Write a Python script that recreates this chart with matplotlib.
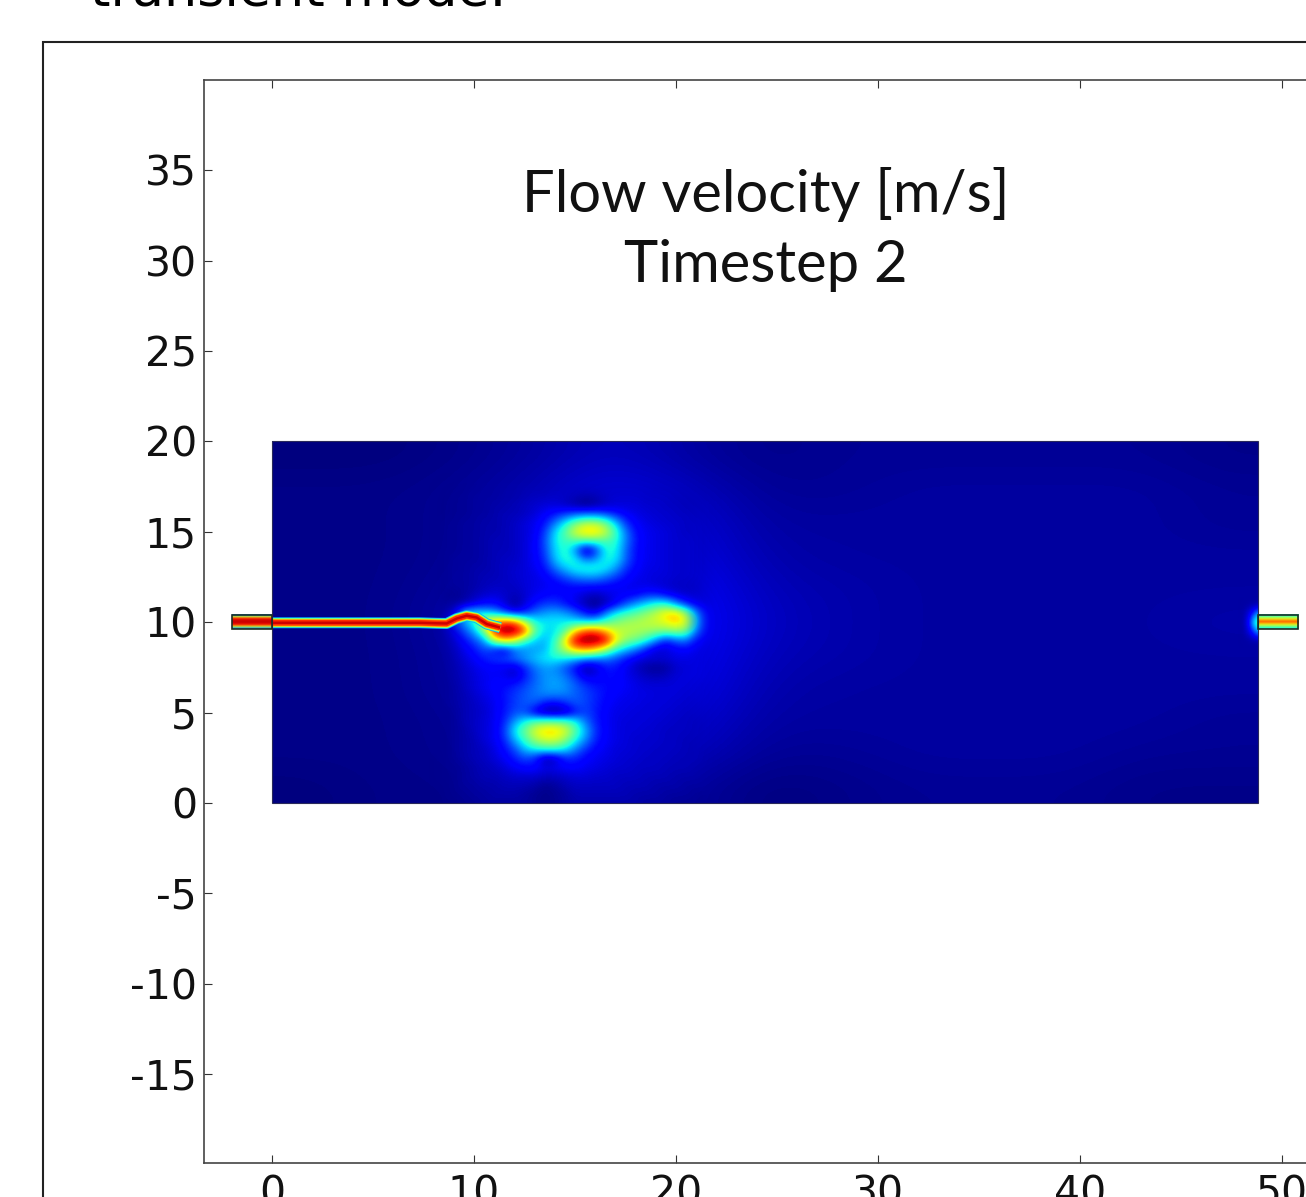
import numpy as np
import matplotlib
matplotlib.use('Agg')
import matplotlib.pyplot as plt
from matplotlib.patches import Rectangle

plt.rcParams['font.family'] = 'DejaVu Sans'
plt.rcParams['axes.unicode_minus'] = False

# speed, 0-100 on the jet scale
# whole chamber, x = 0..48.8, rows from y=20 down to y=0
chamber_speed = [
    [0, 0, 1, 3, 6, 3, 1, 2, 2, 2, 2, 2, 1],
    [1, 1, 2, 5, 9, 6, 2, 2, 3, 3, 3, 3, 2],
    [1, 1, 2, 5, 10, 8, 3, 3, 3, 3, 3, 3, 2],
    [1, 1, 2, 6, 11, 9, 4, 3, 3, 3, 3, 3, 3],
    [1, 1, 3, 7, 12, 11, 5, 4, 3, 3, 3, 3, 3],
    [1, 1, 4, 9, 13, 12, 6, 4, 3, 3, 3, 3, 4],
    [1, 1, 3, 7, 12, 11, 5, 4, 3, 3, 3, 3, 3],
    [1, 1, 3, 6, 11, 10, 4, 3, 3, 3, 3, 3, 3],
    [1, 1, 2, 5, 10, 8, 3, 3, 3, 3, 3, 3, 2],
    [1, 1, 2, 4, 8, 6, 2, 2, 3, 3, 3, 2, 2],
    [0, 1, 1, 3, 5, 3, 0, 1, 2, 2, 2, 1, 1],
]

# centre of the chamber, x = 8..22 and y = 18..0 in steps of 0.5
core_speed = [
    [1, 1, 1, 2, 2, 3, 3, 3, 4, 4, 4, 5, 5, 6, 6, 6, 6, 6, 6, 6, 6, 5, 5, 5, 5, 4, 4, 4, 3],
    [1, 1, 1, 2, 2, 3, 3, 4, 4, 5, 5, 5, 6, 6, 6, 6, 6, 6, 6, 6, 6, 6, 5, 5, 5, 5, 4, 4, 3],
    [1, 1, 2, 2, 3, 3, 3, 4, 4, 5, 6, 6, 7, 6, 5, 3, 4, 6, 7, 7, 7, 6, 6, 6, 5, 5, 5, 4, 4],
    [1, 1, 2, 2, 3, 3, 4, 4, 5, 6, 7, 8, 8, 6, 3, 1, 3, 6, 8, 8, 8, 7, 7, 6, 6, 5, 5, 5, 4],
    [1, 1, 2, 2, 3, 3, 4, 5, 5, 6, 8, 11, 14, 17, 20, 21, 21, 18, 14, 11, 9, 8, 7, 7, 6, 6, 5, 5, 4],
    [1, 2, 2, 3, 3, 4, 4, 5, 6, 8, 10, 14, 24, 36, 48, 56, 56, 48, 32, 17, 11, 9, 8, 7, 7, 6, 6, 5, 4],
    [1, 2, 2, 3, 3, 4, 4, 5, 6, 8, 10, 18, 34, 46, 62, 70, 70, 60, 42, 24, 13, 10, 9, 8, 7, 6, 6, 5, 5],
    [1, 2, 2, 3, 3, 4, 5, 5, 6, 8, 11, 20, 36, 42, 44, 44, 44, 44, 40, 25, 14, 10, 9, 8, 7, 7, 6, 5, 5],
    [1, 2, 2, 3, 3, 4, 5, 5, 6, 8, 11, 19, 34, 40, 26, 3, 16, 38, 38, 22, 13, 10, 9, 8, 7, 7, 6, 5, 5],
    [1, 2, 3, 3, 3, 4, 5, 6, 6, 8, 11, 17, 32, 40, 36, 22, 26, 38, 36, 22, 13, 10, 9, 8, 7, 7, 6, 5, 5],
    [1, 2, 3, 3, 4, 4, 5, 6, 7, 8, 10, 14, 24, 32, 38, 40, 40, 36, 28, 17, 12, 9, 9, 8, 7, 7, 6, 5, 5],
    [1, 2, 3, 3, 4, 5, 5, 6, 7, 8, 9, 11, 15, 20, 25, 27, 27, 23, 18, 13, 10, 9, 8, 8, 7, 7, 6, 5, 5],
    [1, 2, 3, 3, 4, 5, 6, 6, 6, 8, 9, 10, 11, 12, 13, 13, 13, 12, 11, 10, 9, 9, 8, 7, 6, 6, 5, 5, 5],
    [1, 1, 1, 3, 5, 7, 8, 7, 5, 7, 10, 12, 13, 12, 10, 7, 5, 8, 10, 11, 12, 16, 16, 12, 9, 7, 6, 5, 5],
    [2, 2, 3, 5, 9, 13, 13, 8, 2, 8, 14, 18, 18, 14, 9, 4, 1, 5, 11, 20, 28, 34, 40, 40, 26, 16, 10, 6, 5],
    [3, 5, 12, 34, 36, 34, 30, 20, 12, 16, 24, 28, 30, 28, 22, 14, 9, 24, 36, 42, 46, 52, 58, 68, 70, 54, 34, 16, 7],
    [4, 12, 22, 28, 40, 66, 78, 88, 84, 58, 38, 36, 36, 36, 36, 34, 36, 44, 50, 54, 56, 58, 60, 64, 70, 62, 40, 18, 7],
    [4, 7, 12, 20, 30, 50, 92, 100, 100, 86, 46, 34, 34, 46, 70, 86, 86, 72, 60, 58, 56, 54, 52, 50, 52, 48, 30, 15, 7],
    [4, 6, 9, 13, 20, 28, 58, 72, 62, 42, 33, 30, 40, 66, 96, 100, 100, 96, 66, 52, 48, 40, 26, 14, 22, 24, 14, 9, 6],
    [3, 5, 7, 10, 14, 20, 14, 8, 22, 26, 28, 30, 44, 58, 72, 78, 72, 56, 40, 32, 24, 14, 7, 8, 11, 12, 9, 7, 5],
    [3, 4, 6, 8, 11, 15, 18, 20, 24, 28, 32, 36, 38, 36, 32, 26, 24, 24, 20, 14, 10, 8, 8, 8, 9, 9, 8, 7, 5],
    [3, 4, 5, 7, 9, 11, 11, 10, 7, 16, 24, 28, 26, 20, 12, 3, 7, 14, 14, 10, 6, 3, 2, 3, 7, 8, 8, 7, 5],
    [3, 3, 5, 6, 8, 10, 11, 10, 7, 14, 22, 27, 28, 24, 17, 9, 10, 13, 13, 10, 8, 6, 5, 6, 8, 8, 8, 7, 5],
    [2, 3, 4, 6, 8, 10, 12, 13, 15, 19, 23, 27, 29, 27, 22, 17, 14, 13, 12, 11, 9, 8, 8, 8, 8, 8, 7, 6, 5],
    [2, 3, 4, 5, 7, 9, 11, 14, 18, 21, 24, 26, 26, 25, 22, 19, 16, 13, 11, 10, 9, 9, 8, 8, 8, 7, 7, 6, 5],
    [2, 3, 4, 5, 6, 8, 10, 14, 18, 21, 21, 13, 11, 16, 21, 19, 15, 12, 10, 9, 9, 8, 8, 8, 7, 7, 6, 6, 4],
    [2, 2, 3, 5, 6, 7, 10, 14, 20, 20, 8, 2, 1, 3, 13, 19, 15, 11, 9, 9, 8, 8, 8, 7, 7, 6, 6, 5, 4],
    [2, 2, 3, 5, 6, 8, 10, 16, 28, 38, 46, 48, 48, 46, 38, 24, 15, 11, 9, 8, 8, 8, 7, 7, 6, 6, 5, 5, 4],
    [2, 2, 3, 4, 6, 8, 10, 18, 36, 48, 62, 70, 70, 62, 46, 30, 17, 11, 9, 8, 8, 7, 7, 6, 6, 6, 5, 5, 4],
    [2, 2, 3, 4, 5, 8, 10, 16, 30, 42, 54, 60, 60, 52, 38, 26, 15, 11, 9, 8, 7, 7, 7, 6, 6, 5, 5, 5, 4],
    [2, 2, 3, 4, 5, 6, 9, 13, 20, 32, 38, 42, 42, 36, 26, 17, 12, 10, 8, 8, 7, 7, 6, 6, 6, 5, 5, 4, 4],
    [1, 2, 3, 4, 5, 6, 8, 11, 15, 20, 16, 3, 6, 16, 16, 12, 10, 9, 8, 7, 7, 6, 6, 6, 5, 5, 5, 4, 3],
    [1, 2, 2, 3, 4, 5, 6, 8, 11, 13, 13, 9, 10, 12, 12, 10, 9, 8, 7, 7, 6, 6, 6, 5, 5, 5, 4, 4, 3],
    [1, 2, 2, 3, 4, 5, 5, 6, 7, 7, 7, 6, 6, 7, 8, 8, 7, 7, 6, 6, 6, 5, 5, 5, 4, 4, 4, 3, 3],
    [1, 1, 2, 3, 3, 4, 4, 5, 5, 5, 4, 2, 3, 5, 6, 6, 6, 6, 6, 5, 5, 5, 4, 4, 4, 3, 3, 3, 2],
    [1, 1, 2, 2, 3, 3, 4, 4, 4, 3, 2, 1, 2, 3, 5, 5, 5, 5, 5, 5, 4, 4, 4, 3, 3, 3, 2, 2, 2],
    [1, 1, 1, 2, 2, 3, 3, 3, 3, 3, 2, 1, 2, 3, 4, 4, 4, 4, 4, 4, 4, 3, 3, 3, 2, 2, 2, 1, 1],
]

# bright patch in front of the outlet, x = 47.8..48.8, y = 11.4..8.6
outlet_patch_speed = [
    [3, 3, 4, 5, 6],
    [3, 4, 5, 8, 12],
    [3, 5, 9, 18, 30],
    [4, 6, 12, 30, 44],
    [3, 5, 9, 18, 30],
    [3, 4, 5, 8, 12],
    [3, 3, 4, 5, 6],
]

# profiles across the two channels, top to bottom
inlet_profile = [28, 60, 86, 92, 94, 92, 86, 60, 28]
outlet_profile = [38, 48, 60, 72, 82, 72, 60, 48, 38]

# centre line of the jet
jet_x = [0.0, 7.3, 8.15, 8.65, 9.14, 9.64, 10.13, 10.63, 11.3]
jet_y = [9.97, 9.97, 9.94, 9.93, 10.2, 10.36, 10.26, 9.9, 9.7]
jet_levels = [30, 45, 62, 75, 86, 93]

x_ticks = [0, 10, 20, 30, 40, 50]
y_ticks = [-15, -10, -5, 0, 5, 10, 15, 20, 25, 30, 35]

W, H = 1306, 1197
X_RIGHT = 1320  # axes runs off the right side of the picture

fig = plt.figure(figsize=(W / 100, H / 100), dpi=100)

# outer frame, also runs off the picture
fig.add_artist(Rectangle((43 / W, (H - 1300) / H), 1400 / W, 1258 / H, fill=False,
                         ec='#222222', lw=1.5, transform=fig.transFigure))
fig.text(90 / W, 1 - 5 / H, 'transient mode.', fontsize=37.6, color='black', ha='left', va='baseline')

ax = fig.add_axes([204 / W, (H - 1163) / H, (X_RIGHT - 204) / W, 1083 / H])

kw = dict(cmap='jet', vmin=0, vmax=100, aspect='auto', interpolation='bicubic', origin='upper')
ax.imshow(chamber_speed, extent=(0, 48.8, 0, 20), zorder=1, **kw)

# fade the edges of the finer grid so no seam shows, clip it to the chamber
n_rows, n_cols = np.shape(core_speed)
fade_r = np.clip(np.minimum(np.arange(n_rows), np.arange(n_rows)[::-1]) / 3, 0, 1)
fade_c = np.clip(np.minimum(np.arange(n_cols), np.arange(n_cols)[::-1]) / 3, 0, 1)
fade_r[-4:] = 1  # bottom row sits on the chamber wall
core_im = ax.imshow(core_speed, extent=(7.75, 22.25, -0.25, 18.25), zorder=2,
                    alpha=np.outer(fade_r, fade_c), **kw)
core_im.set_clip_path(Rectangle((0, 0), 48.8, 20, transform=ax.transData))

patch_fade = np.outer([0.0, 1.0, 1.0, 1.0, 1.0, 1.0, 0.0], [0.0, 1.0, 1.0, 1.0, 1.0])
ax.imshow(outlet_patch_speed, extent=(47.8, 48.8, 8.6, 11.4), zorder=2, alpha=patch_fade, **kw)
ax.imshow(np.array(inlet_profile).reshape(-1, 1), extent=(-2, 0, 9.6, 10.4), zorder=3, **kw)
ax.imshow(np.array(outlet_profile).reshape(-1, 1), extent=(48.8, 50.8, 9.6, 10.4), zorder=3, **kw)

# jet drawn as nested lines, widest and coolest first
cmap = plt.get_cmap('jet')
jet_widths = [11, 9.5, 8, 7, 5.5, 2.5]
for level, width in zip(jet_levels, jet_widths):
    ax.plot(jet_x, jet_y, color=cmap(level / 100), lw=width * 0.72, zorder=4,
            solid_capstyle='butt', solid_joinstyle='round')

# outlines of chamber and channels
ax.add_patch(Rectangle((0, 0), 48.8, 20, fill=False, ec='#2a2a5a', lw=0.8, zorder=5))
ax.add_patch(Rectangle((-2, 9.6), 2, 0.8, fill=False, ec='#1c2b24', lw=1.2, zorder=5))
ax.add_patch(Rectangle((48.8, 9.6), 2.0, 0.8, fill=False, ec='#1c2b24', lw=1.2, zorder=5))

ax.set_xlim((204 - 272) / 20.2, (X_RIGHT - 272) / 20.2)
ax.set_ylim((803 - 1163) / 18.08, (803 - 80) / 18.08)
ax.set_xticks(x_ticks)
ax.set_yticks(y_ticks)
ax.tick_params(direction='in', top=True, right=True, length=6, width=0.8, color='#333333',
               labelsize=29.5, labelcolor='#111111', pad=5)
ax.tick_params(axis='x', pad=8)
for s in ax.spines.values():
    s.set_linewidth(1.2)
    s.set_color('#444444')

fig.text(766 / W, 1 - 195 / H, 'Flow velocity [m/s]', family='Lato', fontsize=41.7, ha='center', va='center', color='#111111')
fig.text(766 / W, 1 - 266 / H, 'Timestep 2', family='Lato', fontsize=41.7, ha='center', va='center', color='#111111')

fig.savefig('out.png', dpi=100)
